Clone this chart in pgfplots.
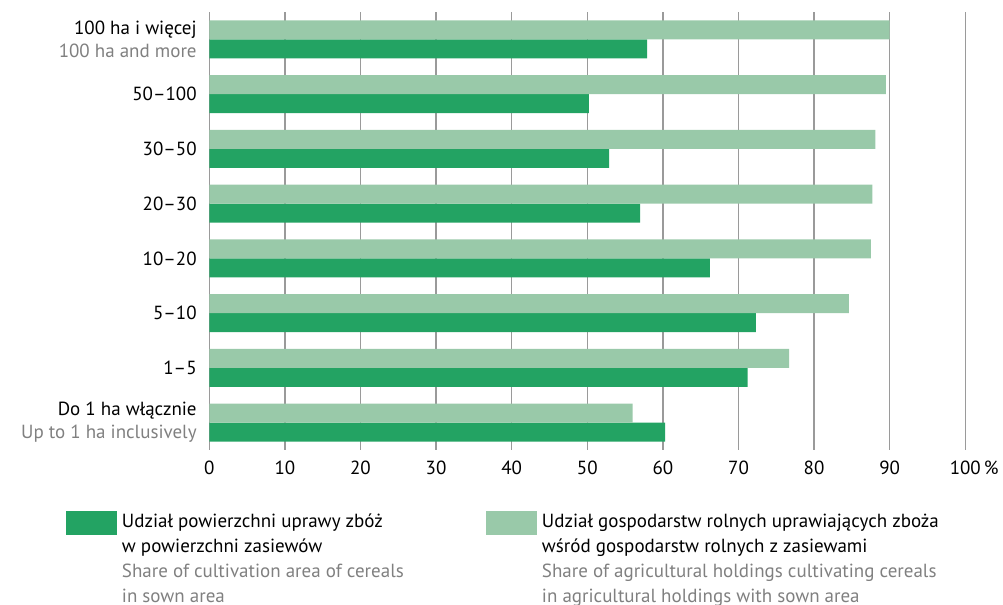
\documentclass[border=0pt]{standalone}
\usepackage{pgfplots}
\pgfplotsset{compat=1.18}
\usepackage{fontspec}
\setmainfont{PT Sans}
\definecolor{darkg}{HTML}{23A363}
\definecolor{lightg}{HTML}{99C9A9}
\definecolor{txtgray}{HTML}{808080}
\definecolor{gridgray}{HTML}{9A9A9A}

\begin{document}
\begin{tikzpicture}
\useasboundingbox (-104.65pt,-77.5pt) rectangle (396.85pt,225pt);
\begin{axis}[
  scale only axis, width=378pt, height=219pt,
  xbar, bar width=9.5pt,
  xmin=0, xmax=100, ymin=-0.5, ymax=7.5,
  xtick={0,10,...,100},
  xticklabels={0,10,20,30,40,50,60,70,80,90,100\rlap{\,\%}},
  ytick={0,...,7},
  yticklabels={{Do 1 ha włącznie\\\textcolor{txtgray}{Up to 1 ha inclusively}},1–5,5–10,10–20,20–30,30–50,50–100,{100 ha i więcej\\\textcolor{txtgray}{100 ha and more}}},
  axis line style={draw=none},
  major tick length=0pt,
  xmajorgrids, grid style={gridgray, line width=0.75pt},
  tick label style={font=\fontsize{9.5}{11.5}\selectfont, text=black},
  yticklabel style={align=right, xshift=-2.8pt},
  xticklabel style={yshift=-2pt},
  legend columns=2,
  legend style={at={(-0.1896,-0.1279)}, anchor=north west, draw=none, fill=none,
    inner sep=0pt, outer sep=0pt,
    cells={anchor=base west, inner sep=0pt, font=\fontsize{9.5}{12.5}\selectfont},
    /tikz/every odd column/.append style={column sep=0.5pt},
    /tikz/every even column/.append style={column sep=0pt}},
  legend image code/.code={\fill[#1] (0pt,-3.5pt) rectangle (25.5pt,8.5pt);},
]
% share of cereal area in sown area
\addplot[fill=darkg, draw=none, bar shift=-4.75pt] coordinates {
  (60.3,0) (71.2,1) (72.3,2) (66.2,3) (57.0,4) (52.9,5) (50.2,6) (57.9,7)};
% share of holdings growing cereals
\addplot[fill=lightg, draw=none, bar shift=4.75pt] coordinates {
  (56.0,0) (76.7,1) (84.6,2) (87.5,3) (87.7,4) (88.1,5) (89.5,6) (90.0,7)};
\addlegendentry{\makebox[180pt][l]{\begin{tabular}[t]{@{}l@{}}Udział powierzchni uprawy zbóż\\w powierzchni zasiewów\\\textcolor{txtgray}{Share of cultivation area of cereals}\\\textcolor{txtgray}{in sown area}\end{tabular}}}
\addlegendentry{\begin{tabular}[t]{@{}l@{}}Udział gospodarstw rolnych uprawiających zboża\\wśród gospodarstw rolnych z zasiewami\\\textcolor{txtgray}{Share of agricultural holdings cultivating cereals}\\\textcolor{txtgray}{in agricultural holdings with sown area}\end{tabular}}
\end{axis}
\end{tikzpicture}
\end{document}
